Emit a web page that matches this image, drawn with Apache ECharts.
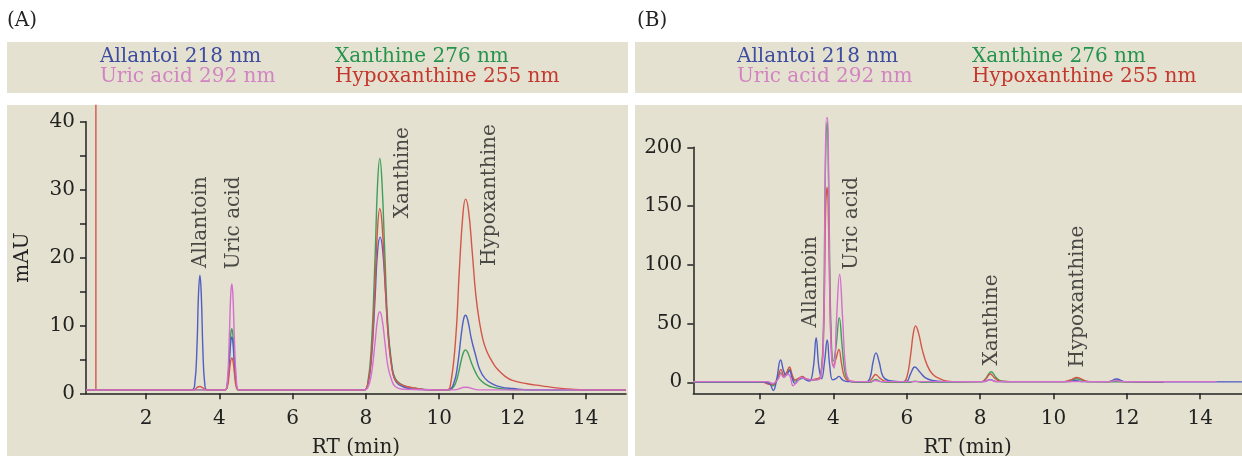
<!DOCTYPE html>
<html><head><meta charset="utf-8">
<script src="https://cdn.jsdelivr.net/npm/echarts@6.0.0/dist/echarts.min.js"></script>
<style>html,body{margin:0;padding:0;background:#fff}#c{width:1242px;height:456px}</style>
</head><body><div id="c"></div>
<script>
// ---------- data ----------
const seriesNames = ['Allantoi 218 nm', 'Uric acid 292 nm', 'Xanthine 276 nm', 'Hypoxanthine 255 nm'];
const peakLabels = ['Allantoin', 'Uric acid', 'Xanthine', 'Hypoxanthine'];
const xTicks = [2, 4, 6, 8, 10, 12, 14];
const yTicksA = [0, 10, 20, 30, 40];
const yTicksB = [0, 50, 100, 150, 200];
const yMinorA = [0, 5, 10, 15, 20, 25, 30, 35, 40];

// Panel A (RT min, mAU)
const A_allantoi = [[0.36,0.5],[3.25,0.5],[3.33,1.5],[3.39,7],[3.43,14.5],[3.47,17.4],[3.51,14],[3.55,6.5],[3.6,1.5],[3.67,0.5],[4.15,0.5],[4.22,1.3],[4.27,4.5],[4.31,7.5],[4.34,8.3],[4.37,7.5],[4.41,4.3],[4.46,1.4],[4.53,0.5],[7.95,0.5],[8.05,1.2],[8.15,5],[8.25,14],[8.32,21],[8.39,23],[8.46,21],[8.54,14.5],[8.62,8],[8.72,3.5],[8.82,1.7],[9.0,1],[9.3,0.6],[10.25,0.5],[10.4,1.5],[10.5,4],[10.6,8.5],[10.67,11],[10.72,11.5],[10.78,10.8],[10.88,8],[11.0,5.5],[11.1,3.6],[11.25,2.2],[11.45,1.4],[11.7,0.9],[12.0,0.7],[12.5,0.5],[15.1,0.5]];
const A_uric = [[0.36,0.5],[4.15,0.5],[4.22,2],[4.27,8],[4.31,14.5],[4.34,16.1],[4.37,14.5],[4.41,8],[4.46,2.5],[4.53,0.5],[7.95,0.5],[8.05,0.8],[8.15,2.8],[8.25,7.5],[8.32,11],[8.38,12],[8.44,11],[8.52,7.5],[8.6,4],[8.7,2],[8.8,1],[9.0,0.6],[10.4,0.5],[10.72,0.9],[11.1,0.5],[15.1,0.5]];
const A_xanthine = [[0.36,0.5],[4.15,0.5],[4.22,1.4],[4.27,5],[4.31,8.6],[4.34,9.5],[4.37,8.6],[4.41,5],[4.46,1.5],[4.53,0.5],[7.95,0.5],[8.05,1.5],[8.15,7],[8.25,20],[8.32,31],[8.38,34.6],[8.44,31],[8.52,20],[8.6,10],[8.7,4.5],[8.8,2.2],[9.0,1.2],[9.3,0.8],[9.8,0.5],[10.25,0.5],[10.4,1],[10.5,2.4],[10.6,4.8],[10.67,6.1],[10.72,6.4],[10.78,6],[10.88,4.5],[11.0,3],[11.1,2.1],[11.25,1.4],[11.45,0.9],[11.8,0.6],[12.5,0.5],[15.1,0.5]];
const A_hypo = [[0.36,0.5],[3.3,0.5],[3.4,0.9],[3.47,1.0],[3.55,0.8],[3.65,0.5],[4.15,0.5],[4.22,1],[4.27,3],[4.31,4.8],[4.34,5.2],[4.37,4.8],[4.41,3],[4.46,1],[4.53,0.5],[7.95,0.5],[8.05,1.3],[8.15,5.5],[8.25,16],[8.32,24.5],[8.38,27.2],[8.44,25],[8.52,17],[8.6,9],[8.7,4],[8.8,2],[9.0,1.2],[9.3,0.8],[9.8,0.5],[10.2,0.5],[10.3,1],[10.45,8],[10.55,18],[10.65,26.5],[10.72,28.6],[10.8,27],[10.9,21],[11.0,14.5],[11.1,10.5],[11.2,7.8],[11.3,6.2],[11.4,5.1],[11.5,4.2],[11.6,3.5],[11.8,2.5],[12.0,1.9],[12.4,1.4],[12.8,1.1],[13.2,0.8],[13.6,0.6],[14.0,0.5],[15.1,0.5]];
const A_hypoSpike = [[0.63,0.5],[0.63,42.5]];

// Panel B
const B_allantoi = [[0.18,0.3],[2.0,0.3],[2.25,-1],[2.36,-7],[2.45,2],[2.56,19],[2.65,9],[2.72,6],[2.8,10],[2.88,3],[2.95,-1],[3.05,2],[3.15,4],[3.25,2],[3.35,1],[3.45,12],[3.53,38],[3.6,14],[3.68,3],[3.76,18],[3.83,36],[3.9,14],[3.98,2],[4.07,3],[4.15,5],[4.25,2],[4.4,0.5],[4.9,0.5],[5.0,4],[5.08,17],[5.16,25],[5.25,17],[5.35,5],[5.5,1.5],[5.8,0.5],[6.0,1],[6.1,7],[6.22,13],[6.35,9],[6.5,4],[6.7,1.5],[7.0,0.5],[8.1,0.5],[8.27,2.2],[8.45,0.5],[10.4,0.5],[10.6,1.5],[10.8,0.5],[11.5,0.5],[11.72,2.8],[11.95,0.5],[15.14,0.3]];
const B_uric = [[0.18,0.5],[2.2,0.5],[2.35,-1],[2.5,3],[2.57,7],[2.65,4],[2.75,7],[2.82,5],[2.9,-3],[3.0,0],[3.12,4],[3.25,3],[3.4,2],[3.5,2],[3.65,4],[3.73,40],[3.77,150],[3.81,225],[3.84,225],[3.87,170],[3.91,60],[3.96,18],[4.02,12],[4.08,50],[4.17,92],[4.25,55],[4.33,12],[4.42,2],[4.55,0.5],[5.0,0.5],[5.15,1.5],[5.3,0.5],[8.1,0.5],[8.27,2],[8.45,0.5],[11.5,0.5],[11.7,1.5],[11.9,0.5],[14.45,0.5]];
const B_xanthine = [[0.18,0],[2.2,0],[2.35,-3],[2.45,1],[2.56,8],[2.65,5],[2.72,7],[2.8,11],[2.88,5],[2.95,1],[3.1,3],[3.2,3.5],[3.3,2],[3.5,2],[3.65,5],[3.73,50],[3.78,180],[3.83,222],[3.87,170],[3.93,50],[4.0,18],[4.07,30],[4.16,55],[4.24,30],[4.32,8],[4.42,1.5],[4.6,0],[5.0,0],[5.15,2.3],[5.3,0.5],[5.5,0],[6.1,0],[6.22,1],[6.4,0],[8.05,0.5],[8.15,3],[8.3,9],[8.45,3.5],[8.6,0.8],[8.8,0.5],[10.3,0.5],[10.5,2],[10.63,3],[10.8,1.5],[11.0,0.5],[13.0,0.3]];
const B_hypo = [[0.18,0.5],[2.0,0.5],[2.3,-2],[2.4,-1],[2.5,6],[2.57,11],[2.65,6],[2.72,8],[2.8,13],[2.88,6],[2.95,2],[3.08,4],[3.15,5],[3.25,3],[3.4,2],[3.55,3],[3.65,5],[3.73,40],[3.79,150],[3.83,166],[3.87,130],[3.93,40],[4.0,14],[4.07,20],[4.15,28],[4.22,16],[4.3,5],[4.4,1.5],[4.6,0.5],[4.95,0.5],[5.05,3],[5.15,6.6],[5.25,4],[5.4,1],[5.6,0.5],[5.9,0.5],[6.0,4],[6.1,22],[6.18,42],[6.24,48],[6.32,42],[6.42,28],[6.55,15],[6.7,7],[6.9,3],[7.1,1],[7.4,0.5],[8.05,0.5],[8.15,2.5],[8.28,7],[8.4,3.5],[8.55,0.8],[8.8,0.5],[10.3,0.5],[10.5,2.5],[10.63,4],[10.78,2.5],[10.95,0.5],[11.5,0.5],[11.7,2],[11.9,0.5],[13.0,0.3]];

// label anchor points (RT, mAU)
const labelPosA = [[3.5,25.2],[4.4,25.1],[9.0,32.5],[11.38,29.2]];
const labelPosB = [[3.39,85.6],[4.51,135.3],[8.33,53],[10.65,72.9]];

// ---------- styles ----------
const FONT = 'DejaVu Serif';
const traceColors = ['#4f5fc4', '#d46fd0', '#3f9f5a', '#d2574a'];
const textColors = ['#3d4c9e', '#d283c2', '#24934c', '#c4372d'];
const BEIGE = '#e5e1d0';
const AX = '#222';

const chart = echarts.init(document.getElementById('c'), null, {renderer: 'canvas'});

function xAxisDef(gi, min, max) {
  return {
    type: 'value', gridIndex: gi, min: min, max: max,
    name: 'RT (min)', nameLocation: 'middle', nameGap: 44,
    nameTextStyle: {fontFamily: FONT, fontSize: 20, color: AX},
    axisLine: {onZero: false, lineStyle: {color: AX, width: 1.5}},
    axisTick: {show: true, length: 6, lineStyle: {color: AX, width: 1.5}, customValues: xTicks},
    axisLabel: {customValues: xTicks, fontFamily: FONT, fontSize: 20, color: AX, margin: 15},
    splitLine: {show: false}
  };
}

function lineSeries(name, gi, data, color, z) {
  return {
    name: name, type: 'line', xAxisIndex: gi, yAxisIndex: gi, data: data,
    showSymbol: false, symbol: 'none', smooth: 0.45, clip: false, z: z,
    lineStyle: {color: color, width: 1.4}, itemStyle: {color: color},
    emphasis: {disabled: true}
  };
}

function labelSeries(gi, pos) {
  return {
    type: 'scatter', xAxisIndex: gi, yAxisIndex: gi, symbolSize: 0, silent: true, z: 10,
    data: pos.map((p, i) => ({value: p, name: peakLabels[i]})),
    label: {show: true, formatter: '{b}', rotate: 90, position: 'inside', align: 'center', verticalAlign: 'middle',
      fontFamily: FONT, fontSize: 20, color: AX}
  };
}

function legendDef(left, idxs) {
  return {
    left: left, top: 47, orient: 'vertical', icon: 'none', itemWidth: 0, itemHeight: 20, itemGap: 0,
    padding: 0, selectedMode: false,
    textStyle: {fontFamily: FONT, fontSize: 20, lineHeight: 20},
    data: idxs.map(i => ({name: seriesNames[i], textStyle: {color: textColors[i]}}))
  };
}

const rect = (x, y, w, h) => ({type: 'rect', z: -100, silent: true, shape: {x: x, y: y, width: w, height: h}, style: {fill: BEIGE}});
const txt = (x, y, t) => ({type: 'text', z: 100, silent: true, x: x, y: y, style: {text: t, fontFamily: FONT, fontSize: 20, fill: AX}});

const A_data = [A_allantoi, A_uric, A_xanthine, A_hypo];
const B_data = [B_allantoi, B_uric, B_xanthine, B_hypo];

const series = [];
[2, 0, 3, 1].forEach((i, k) => series.push(lineSeries(seriesNames[i], 0, A_data[i], traceColors[i], 3 + k)));
series.push(lineSeries(seriesNames[3], 0, A_hypoSpike, traceColors[3], 3));
[2, 3, 0, 1].forEach((i, k) => series.push(lineSeries(seriesNames[i], 1, B_data[i], traceColors[i], 3 + k)));
series.push(labelSeries(0, labelPosA));
series.push(labelSeries(1, labelPosB));

chart.setOption({
  animation: false,
  backgroundColor: '#ffffff',
  graphic: [
    rect(7, 42, 621, 51), rect(7, 105, 621, 351),
    rect(635, 42, 607, 51), rect(635, 105, 607, 351),
    txt(7, 11, '(A)'), txt(637, 11, '(B)')
  ],
  legend: [legendDef(95, [0, 1]), legendDef(330, [2, 3]), legendDef(732, [0, 1]), legendDef(967, [2, 3])],
  grid: [
    {left: 86, top: 121.7, width: 540, height: 271.6, containLabel: false, outerBoundsMode: 'none'},
    {left: 693.3, top: 147.3, width: 548.7, height: 246, containLabel: false, outerBoundsMode: 'none'}
  ],
  xAxis: [xAxisDef(0, 0.36, 15.1), xAxisDef(1, 0.18, 15.14)],
  yAxis: [
    {
      type: 'value', gridIndex: 0, min: 0, max: 40,
      name: 'mAU', nameLocation: 'middle', nameGap: 53, nameRotate: 90,
      nameTextStyle: {fontFamily: FONT, fontSize: 20, color: AX},
      axisLine: {show: true, lineStyle: {color: AX, width: 1.5}},
      axisTick: {show: true, length: 6, lineStyle: {color: AX, width: 1.5}, customValues: yMinorA},
      axisLabel: {customValues: yTicksA, fontFamily: FONT, fontSize: 20, color: AX, margin: 11},
      splitLine: {show: false}
    },
    {
      type: 'value', gridIndex: 1, min: -9.4, max: 200,
      axisLine: {show: true, onZero: false, lineStyle: {color: AX, width: 1.5}},
      axisTick: {show: true, length: 6, lineStyle: {color: AX, width: 1.5}, customValues: yTicksB},
      axisLabel: {customValues: yTicksB, fontFamily: FONT, fontSize: 20, color: AX, margin: 11},
      splitLine: {show: false}
    }
  ],
  series: series
});
</script>
</body></html>
